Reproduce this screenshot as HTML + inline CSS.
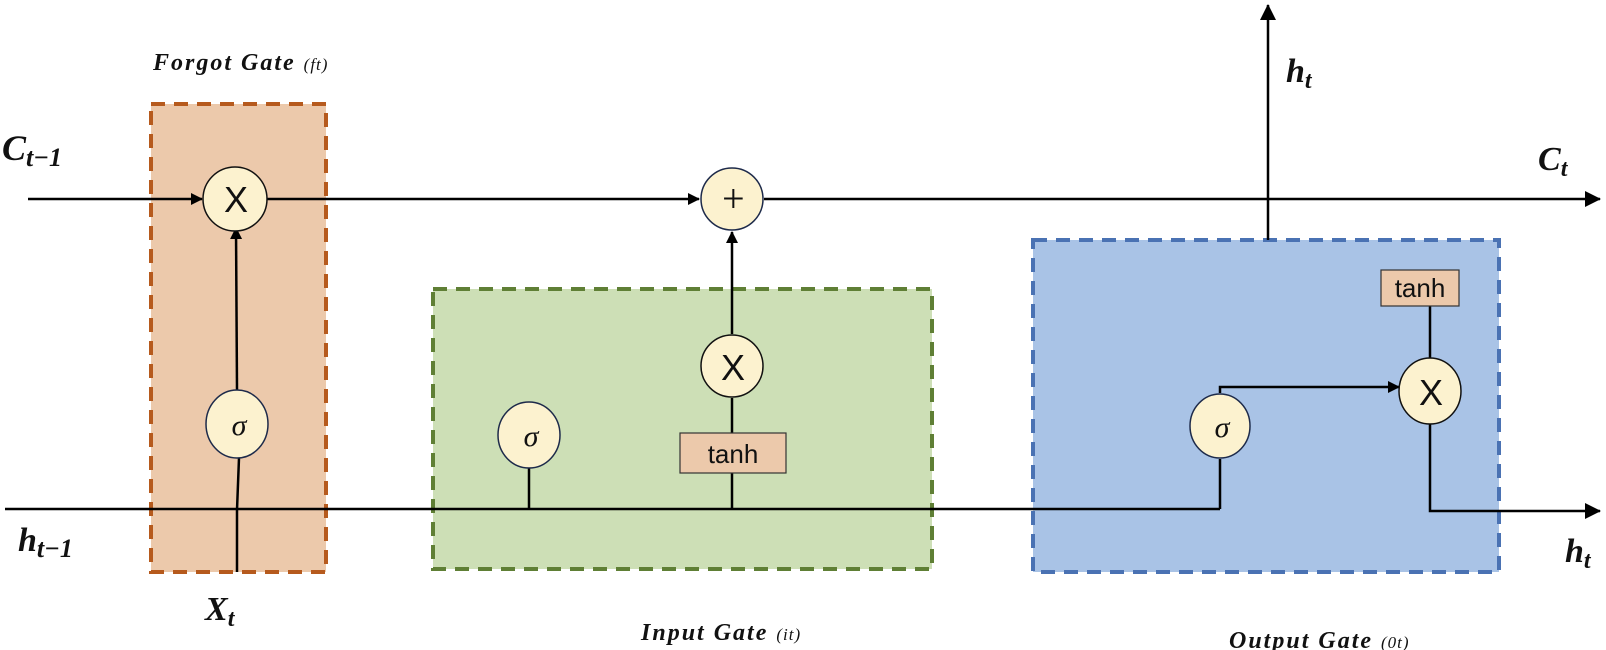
<!DOCTYPE html>
<html><head><meta charset="utf-8"><style>
html,body{margin:0;padding:0;background:#fff;}
svg{display:block;}
.m{font-family:"Liberation Serif",serif;font-weight:bold;font-style:italic;fill:#111;}
.g{font-family:"Liberation Serif",serif;font-weight:bold;font-style:italic;fill:#111;font-size:24px;letter-spacing:2px;}
.s{font-family:"Liberation Serif",serif;font-style:italic;font-weight:normal;font-size:17px;fill:#111;letter-spacing:1px;}
.t{font-family:"Liberation Sans",sans-serif;font-size:26px;fill:#111;}
</style></head><body>
<svg width="1606" height="650" viewBox="0 0 1606 650" xmlns="http://www.w3.org/2000/svg">
<defs>
<marker id="a" markerWidth="12" markerHeight="12" refX="11" refY="6" orient="auto" markerUnits="userSpaceOnUse"><path d="M0,0 L12,6 L0,12 Z" fill="#000"/></marker>
<marker id="b" markerWidth="16" markerHeight="16" refX="15" refY="8" orient="auto" markerUnits="userSpaceOnUse"><path d="M0,0 L16,8 L0,16 Z" fill="#000"/></marker>
</defs>
<rect x="151" y="104" width="175" height="468" fill="#ecc9ab" stroke="#b65a1d" stroke-width="4" stroke-dasharray="14,9"/>
<rect x="433" y="289" width="499" height="280" fill="#cddfb6" stroke="#5f7f35" stroke-width="4" stroke-dasharray="14,9"/>
<rect x="1033" y="240" width="466" height="332" fill="#a9c3e6" stroke="#4a72b3" stroke-width="4" stroke-dasharray="14,9"/>
<g stroke="#000" stroke-width="2.5" fill="none">
<line x1="28" y1="199" x2="202" y2="199" marker-end="url(#a)"/>
<line x1="267" y1="199" x2="699" y2="199" marker-end="url(#a)"/>
<line x1="764" y1="199" x2="1600" y2="199" marker-end="url(#b)"/>
<line x1="1268" y1="240" x2="1268" y2="5" marker-end="url(#b)"/>
<line x1="237" y1="390" x2="236" y2="228" marker-end="url(#a)"/>
<path d="M237,572 L237,510 L239,458"/>
<line x1="5" y1="509" x2="1220" y2="509"/>
<line x1="529" y1="509" x2="529" y2="468"/>
<line x1="732" y1="509" x2="732" y2="473"/>
<line x1="732" y1="433" x2="732" y2="398"/>
<line x1="732" y1="334" x2="732" y2="232" marker-end="url(#a)"/>
<line x1="1220" y1="509" x2="1220" y2="459"/>
<path d="M1220,393 L1220,387 L1399,387" marker-end="url(#a)"/>
<line x1="1430" y1="306" x2="1430" y2="358"/>
<path d="M1430,424 L1430,511 L1600,511" marker-end="url(#b)"/>
</g>
<g stroke="#1d2a4a" stroke-width="1.5" fill="#fcf2cf">
<circle cx="235" cy="199" r="32" stroke="#111"/>
<ellipse cx="237" cy="424" rx="31" ry="34"/>
<circle cx="732" cy="199" r="31"/>
<circle cx="732" cy="366" r="31" stroke="#111"/>
<ellipse cx="529" cy="435" rx="31" ry="33"/>
<ellipse cx="1220" cy="426" rx="30" ry="32"/>
<ellipse cx="1430" cy="391" rx="31" ry="33" stroke="#111"/>
</g>
<g stroke="#333" stroke-width="1.2" fill="#ecc9ab">
<rect x="680" y="433" width="106" height="40"/>
<rect x="1381" y="270" width="78" height="36"/>
</g>
<g class="t" text-anchor="middle">
<text x="236" y="212" font-size="36">X</text>
<text x="733" y="380" font-size="36">X</text>
<text x="1431" y="405" font-size="36">X</text>
<text x="733" y="463">tanh</text>
<text x="1420" y="297">tanh</text>
</g>
<g font-family="Liberation Serif,serif" font-style="italic" font-size="30" text-anchor="middle" fill="#111">
<text x="239" y="435">σ</text>
<text x="531" y="446">σ</text>
<text x="1222" y="437">σ</text>
<text x="733" y="212" font-size="40">+</text>
</g>
<text class="g" x="153" y="70">Forgot Gate <tspan class="s">(ft)</tspan></text>
<text class="g" x="641" y="640">Input Gate <tspan class="s">(it)</tspan></text>
<text class="g" x="1229" y="648">Output Gate <tspan class="s">(0t)</tspan></text>
<text class="m" x="2" y="160" font-size="36">C<tspan font-size="26" dy="6">t−1</tspan></text>
<text class="m" x="1286" y="82" font-size="34">h<tspan font-size="24" dy="6">t</tspan></text>
<text class="m" x="1538" y="170" font-size="34">C<tspan font-size="24" dy="6">t</tspan></text>
<text class="m" x="18" y="551" font-size="34">h<tspan font-size="26" dy="6">t−1</tspan></text>
<text class="m" x="205" y="620" font-size="34">X<tspan font-size="24" dy="6">t</tspan></text>
<text class="m" x="1565" y="562" font-size="34">h<tspan font-size="24" dy="6">t</tspan></text>
</svg>
</body></html>
